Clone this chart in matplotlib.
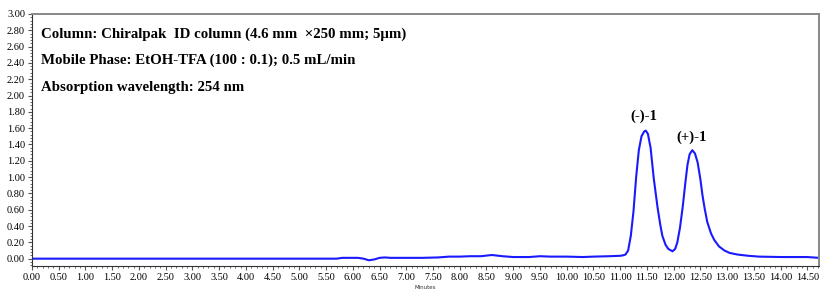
import matplotlib
matplotlib.use('Agg')
from matplotlib import pyplot as plt
from matplotlib.ticker import MultipleLocator
import numpy as np

# chromatogram (minutes, AU)
time_min = [0.00, 1.00, 2.00, 3.00, 4.00, 5.00, 5.70, 5.80, 6.00, 6.10, 6.20, 6.30, 6.40,
            6.50, 6.60, 6.70, 7.00, 7.30, 7.60, 7.80, 8.00, 8.20, 8.40, 8.60, 8.80,
            9.00, 9.30, 9.50, 9.70, 10.00, 10.30, 10.50, 10.80, 11.00, 11.05, 11.10,
            11.15, 11.20, 11.25, 11.30, 11.35, 11.40, 11.45, 11.48, 11.52, 11.57, 11.63,
            11.70, 11.75, 11.79, 11.85, 11.90, 11.98, 12.03, 12.07, 12.12, 12.17, 12.22,
            12.26, 12.30, 12.35, 12.40, 12.45, 12.50, 12.54, 12.58, 12.63, 12.70, 12.76,
            12.85, 12.95, 13.05, 13.20, 13.40, 13.60, 14.00, 14.50, 14.72]
absorbance = [0.00, 0.00, 0.00, 0.00, 0.00, 0.00, 0.00, 0.01, 0.01, 0.01, 0.00, -0.02, -0.01,
              0.01, 0.015, 0.01, 0.01, 0.01, 0.015, 0.025, 0.025, 0.03, 0.03, 0.045, 0.03,
              0.02, 0.02, 0.03, 0.025, 0.025, 0.02, 0.025, 0.03, 0.035, 0.04, 0.05,
              0.10, 0.28, 0.58, 1.00, 1.33, 1.50, 1.56, 1.57, 1.53, 1.36, 0.98,
              0.63, 0.42, 0.28, 0.17, 0.12, 0.09, 0.12, 0.20, 0.38, 0.63, 0.93,
              1.15, 1.28, 1.33, 1.29, 1.18, 0.98, 0.78, 0.62, 0.45, 0.31, 0.23,
              0.15, 0.10, 0.07, 0.05, 0.035, 0.025, 0.02, 0.02, 0.01]

x_ticks = np.arange(0, 14.51, 0.5)
y_ticks = np.arange(0, 3.01, 0.2)

info_lines = ['Column: Chiralpak  ID column (4.6 mm  \u00d7250 mm; 5\u03bcm)',
              'Mobile Phase: EtOH-TFA (100 : 0.1); 0.5 mL/min',
              'Absorption wavelength: 254 nm']
peak_labels = ['(-)-1', '(+)-1']
peak_pos = [(11.48, 1.57), (12.36, 1.32)]

plt.rcParams['font.family'] = ['Liberation Serif', 'DejaVu Serif']

fig = plt.figure(figsize=(8.3, 2.95), dpi=100)
ax = fig.add_axes([32 / 830, 29 / 295, 787 / 830, 252 / 295])

ax.plot(time_min, absorbance, color='#1a1aff', lw=1.5)

ax.set_xlim(0, 14.72)
ax.set_ylim(-0.09, 3.0)
ax.set_xticks(x_ticks)
ax.set_xticklabels(['%.2f' % v for v in x_ticks])
ax.set_yticks(y_ticks)
ax.set_yticklabels(['%.2f' % v for v in y_ticks])
ax.xaxis.set_minor_locator(MultipleLocator(0.1))
ax.yaxis.set_minor_locator(MultipleLocator(0.04))
ax.tick_params(which='major', length=3, width=0.8, color='#555555', labelsize=7.4, pad=2)
ax.tick_params(which='minor', length=1.5, width=0.6, color='#555555')

for side in ['left', 'bottom']:
    ax.spines[side].set_color('#333333')
    ax.spines[side].set_linewidth(0.8)
for side in ['top', 'right']:
    ax.spines[side].set_color('#888888')
    ax.spines[side].set_linewidth(1.4)

ax.set_xlabel('Minutes', fontsize=4, family='DejaVu Sans', labelpad=2, color='#333333')

for i, line in enumerate(info_lines):
    ax.text(0.012, 0.92 - i * 0.105, line, transform=ax.transAxes, fontsize=10.7,
            fontweight='bold', va='center', ha='left')

for lab, (px, py) in zip(peak_labels, peak_pos):
    ax.text(px - 0.03, py + 0.17, lab, fontsize=10.7, fontweight='bold',
            ha='center', va='center')

fig.savefig('out.png', dpi=100)
